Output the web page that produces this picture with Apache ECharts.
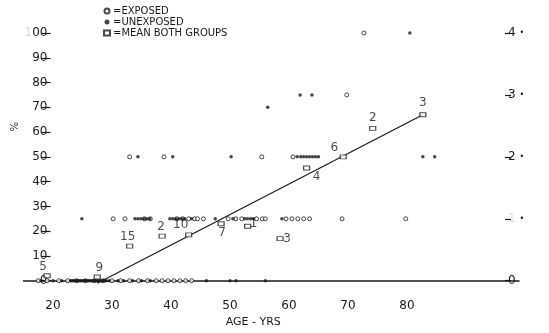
<!DOCTYPE html>
<html>
<head>
<meta charset="utf-8">
<script src="https://cdn.jsdelivr.net/npm/echarts@6/dist/echarts.min.js"></script>
<style>
  html, body { margin: 0; padding: 0; background: #fff; }
  #chart { width: 549px; height: 333px; }
</style>
</head>
<body>
<div id="chart"></div>
<script>
// Individual scores (percent) by age, two groups
const exposedAges   = [17.5, 19, 21, 22.5, 24, 25.5, 27, 28.5, 30, 31.5, 33, 34.5, 36, 37.5, 38.5, 39.5, 40.5, 41.5, 42.5, 43.5,
                       30.2, 32.2, 35.5, 36.5, 41, 42, 43, 44, 44.5, 45.5, 49.7, 51, 52, 54.5, 55.5, 56, 59.5, 60.5, 61.5, 62.5, 63.5, 69, 79.8,
                       33, 38.8, 55.4, 60.7, 69.8, 72.7];
const exposedValues = [0, 0, 0, 0, 0, 0, 0, 0, 0, 0, 0, 0, 0, 0, 0, 0, 0, 0, 0, 0,
                       25, 25, 25, 25, 25, 25, 25, 25, 25, 25, 25, 25, 25, 25, 25, 25, 25, 25, 25, 25, 25, 25, 25,
                       50, 50, 50, 50, 75, 100];

const unexposedAges   = [18, 20, 21.5, 23, 23.25, 23.5, 23.75, 24, 24.25, 24.5, 24.75, 25, 25.25, 25.5, 25.75, 26, 26.25, 26.5, 26.75,
                         27, 27.25, 27.5, 27.75, 28, 28.25, 28.5, 28.75, 29, 29.5, 31, 32, 33.5, 35, 36.5, 46, 50, 51, 56,
                         24.9, 33.9, 34.4, 34.9, 35.4, 35.9, 36.4, 39.8, 40.3, 40.8, 41.3, 41.8, 42.3, 43.5, 47.5, 50.5, 52.5, 53, 53.5, 54, 58.8,
                         34.4, 40.3, 50.2, 61.4, 62, 62.5, 63, 63.5, 64, 64.5, 65, 82.7, 84.7,
                         56.4, 61.9, 63.9, 80.5];
const unexposedValues = [0, 0, 0, 0, 0, 0, 0, 0, 0, 0, 0, 0, 0, 0, 0, 0, 0, 0, 0,
                         0, 0, 0, 0, 0, 0, 0, 0, 0, 0, 0, 0, 0, 0, 0, 0, 0, 0, 0,
                         25, 25, 25, 25, 25, 25, 25, 25, 25, 25, 25, 25, 25, 25, 25, 25, 25, 25, 25, 25, 25,
                         50, 50, 50, 50, 50, 50, 50, 50, 50, 50, 50, 50, 50,
                         70, 75, 75, 100];

// Age-group means of both groups, with group sizes
const meanAges   = [19, 27.5, 33, 38.5, 43, 48.5, 53, 58.5, 63, 69.2, 74.2, 82.7];
const meanValues = [2, 1.5, 14, 18, 18.5, 23, 22, 17, 45.5, 50, 61.5, 67];
const meanCounts = [5, 9, 15, 2, 10, 7, 1, 3, 4, 6, 2, 3];

// Fitted line end points
const fitAges   = [27.5, 82.7];
const fitValues = [-1, 67];

// Axis tick labels
const xTicks      = [20, 30, 40, 50, 60, 70, 80];
const yTicks      = [0, 10, 20, 30, 40, 50, 60, 70, 80, 90, 100];
const gradeTicks  = [0, 1, 2, 3, 4];

// Where each count label sits around its mean marker (pixels)
const meanLabelShift = [[-4, -9], [2, -9], [-2, -9], [-1, -9], [-8, -10], [1, 9], [6, -2], [7, 0], [10, 9], [-9, -9], [0, -10], [0, -12]];

const ink = '#1a1a1a';
const font = 'DejaVu Sans';

const chart = echarts.init(document.getElementById('chart'), null, { renderer: 'canvas' });

chart.setOption({
  backgroundColor: '#fff',
  animation: false,
  textStyle: { fontFamily: font, color: ink },
  grid: { left: 23.5, right: 30, top: 33, bottom: 39.6 },
  legend: {
    orient: 'vertical',
    left: 98, top: 1,
    itemGap: 1, itemWidth: 6, itemHeight: 5,
    data: ['EXPOSED', 'UNEXPOSED', 'MEAN BOTH GROUPS'],
    formatter: n => '=' + n,
    textStyle: { fontSize: 10, color: ink, fontFamily: font, padding: [0, 0, 0, -2] },
    selectedMode: false
  },
  xAxis: {
    type: 'value', min: 15, max: 99,
    name: 'AGE - YRS', nameLocation: 'middle', nameGap: 21,
    nameTextStyle: { fontSize: 11, color: ink, padding: [0, 36, 0, 0] },
    axisLine: { show: true, lineStyle: { color: ink, width: 1.5 } },
    axisTick: { show: false },
    splitLine: { show: false },
    axisLabel: { customValues: xTicks, fontSize: 12, color: ink, margin: 7 }
  },
  yAxis: [{
    type: 'value', min: -5, max: 100, offset: -27,
    axisLine: { show: false },
    axisTick: { show: true, customValues: yTicks, length: 9, lineStyle: { color: ink, width: 1.2 } },
    splitLine: { show: false },
    axisLabel: {
      customValues: yTicks, fontSize: 12, color: ink, margin: 3,
      formatter: v => v === 100 ? '{f|1}00' : String(v),
      rich: { f: { color: '#d8d8d8', fontSize: 12 } }
    }
  }, {
    type: 'value', min: -0.2, max: 4, position: 'right', offset: -14,
    axisLine: { show: false },
    axisTick: { show: true, customValues: gradeTicks, length: 6, lineStyle: { color: ink, width: 1.2 } },
    splitLine: { show: false },
    axisLabel: {
      customValues: gradeTicks, fontSize: 12, color: ink, margin: 3,
      formatter: v => v === 0 ? String(v) : (v === 1 ? '{f|1} {d|•}' : v + ' {d|•}'),
      rich: { f: { color: '#dcdcdc', fontSize: 12 }, d: { fontSize: 8, color: ink } }
    }
  }],
  graphic: [{
    type: 'text', left: 10, top: 122, rotation: Math.PI / 2,
    style: { text: '%', fontSize: 10, fill: ink, fontFamily: font }
  }],
  series: [{
    name: 'fit', type: 'line', yAxisIndex: 0,
    data: fitAges.map((a, i) => [a, fitValues[i]]),
    showSymbol: false, silent: true,
    lineStyle: { color: ink, width: 1.2 }, z: 2
  }, {
    name: 'EXPOSED', type: 'scatter',
    data: exposedAges.map((a, i) => [a, exposedValues[i]]),
    symbol: 'circle', symbolSize: 4,
    itemStyle: { color: '#fff', borderColor: ink, borderWidth: 1 }, z: 3
  }, {
    name: 'UNEXPOSED', type: 'scatter',
    data: unexposedAges.map((a, i) => [a, unexposedValues[i]]),
    symbol: 'circle', symbolSize: 3.5,
    itemStyle: { color: ink }, z: 4
  }, {
    name: 'MEAN BOTH GROUPS', type: 'scatter',
    data: meanAges.map((a, i) => ({
      value: [a, meanValues[i], meanCounts[i]],
      label: { offset: meanLabelShift[i] }
    })),
    symbol: 'rect', symbolSize: [6, 4],
    itemStyle: { color: '#fff', borderColor: ink, borderWidth: 1 },
    label: {
      show: true, position: 'inside', fontSize: 12, color: ink,
      formatter: p => String(p.value[2])
    },
    z: 5
  }]
});
</script>
</body>
</html>
